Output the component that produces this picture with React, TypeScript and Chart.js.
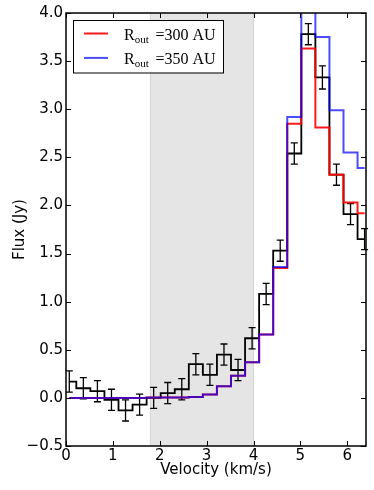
import React, { useEffect, useRef } from 'react';
import { Chart, registerables } from 'chart.js';

Chart.register(...registerables);

// ---- data ----
const velocity = [0.07, 0.37, 0.67, 0.97, 1.27, 1.57, 1.87, 2.17, 2.47, 2.77, 3.07, 3.37, 3.67, 3.97, 4.27, 4.57, 4.87, 5.17, 5.47, 5.77, 6.07, 6.37];
const observedFlux = [0.17, 0.10, 0.07, -0.02, -0.13, -0.07, 0.0, 0.05, 0.09, 0.35, 0.24, 0.45, 0.29, 0.62, 1.08, 1.53, 2.54, 3.78, 3.33, 2.32, 1.91, 1.65];
const fluxError = [0.11, 0.11, 0.11, 0.11, 0.11, 0.11, 0.11, 0.11, 0.11, 0.11, 0.11, 0.11, 0.11, 0.11, 0.11, 0.11, 0.11, 0.11, 0.12, 0.11, 0.11, 0.11];
const model300 = [0, 0, 0, 0, 0, 0, 0.005, 0.005, 0.005, 0.01, 0.035, 0.12, 0.23, 0.37, 0.66, 1.35, 2.85, 3.63, 2.81, 2.32, 2.03, 1.92];
const model350 = [0, 0, 0, 0, 0, 0, 0.005, 0.005, 0.005, 0.01, 0.035, 0.12, 0.23, 0.37, 0.66, 1.36, 2.92, 4.5, 3.75, 2.99, 2.55, 2.39];
const shadedRange = [1.8, 4.0];
const xTicks = [0, 1, 2, 3, 4, 5, 6];
const yTicks = [-0.5, 0, 0.5, 1, 1.5, 2, 2.5, 3, 3.5, 4];
const legendLabels = [
  { sub: 'out', rest: '=300 AU', color: 'rgba(255,0,0,0.9)' },
  { sub: 'out', rest: '=350 AU', color: 'rgba(0,0,255,0.7)' },
];

const RED = 'rgba(255,0,0,0.9)';
const BLUE = 'rgba(0,0,255,0.7)';
const SANS = '"DejaVu Sans", sans-serif';

const decorPlugin = {
  id: 'decor',
  beforeDatasetsDraw(chart: any) {
    const { ctx, chartArea, scales } = chart;
    const x1 = scales.x.getPixelForValue(shadedRange[0]);
    const x2 = scales.x.getPixelForValue(shadedRange[1]);
    ctx.save();
    ctx.fillStyle = '#e5e5e5';
    ctx.fillRect(x1, chartArea.top, x2 - x1, chartArea.bottom - chartArea.top);
    ctx.strokeStyle = '#d4d4d4';
    ctx.lineWidth = 1;
    ctx.beginPath();
    ctx.moveTo(x1, chartArea.top);
    ctx.lineTo(x1, chartArea.bottom);
    ctx.moveTo(x2, chartArea.top);
    ctx.lineTo(x2, chartArea.bottom);
    ctx.stroke();
    ctx.restore();
  },
  afterDatasetDraw(chart: any, args: any) {
    if (args.index !== 2) return;
    const { ctx, scales } = chart;
    ctx.save();
    ctx.strokeStyle = '#000';
    ctx.lineWidth = 1.3;
    ctx.beginPath();
    velocity.forEach((v, i) => {
      const x = scales.x.getPixelForValue(v);
      const yTop = scales.y.getPixelForValue(observedFlux[i] + fluxError[i]);
      const yBot = scales.y.getPixelForValue(observedFlux[i] - fluxError[i]);
      ctx.moveTo(x, yTop);
      ctx.lineTo(x, yBot);
      ctx.moveTo(x - 3.5, yTop);
      ctx.lineTo(x + 3.5, yTop);
      ctx.moveTo(x - 3.5, yBot);
      ctx.lineTo(x + 3.5, yBot);
    });
    ctx.stroke();
    ctx.restore();
  },
  afterDraw(chart: any) {
    const { ctx, chartArea, scales } = chart;
    const { left, right, top, bottom } = chartArea;
    ctx.save();
    // ticks inward
    ctx.strokeStyle = '#000';
    ctx.lineWidth = 1;
    ctx.beginPath();
    xTicks.forEach((t) => {
      const x = Math.round(scales.x.getPixelForValue(t)) + 0.5;
      ctx.moveTo(x, bottom);
      ctx.lineTo(x, bottom - 5);
      ctx.moveTo(x, top);
      ctx.lineTo(x, top + 5);
    });
    yTicks.forEach((t) => {
      const y = Math.round(scales.y.getPixelForValue(t)) + 0.5;
      ctx.moveTo(left, y);
      ctx.lineTo(left + 5, y);
      ctx.moveTo(right, y);
      ctx.lineTo(right - 5, y);
    });
    ctx.stroke();
    // frame
    ctx.lineWidth = 1.5;
    ctx.strokeRect(left, top, right - left, bottom - top);

    // legend
    const lx = 73, ly = 20, lw = 150, lh = 52.5;
    ctx.fillStyle = '#fff';
    ctx.fillRect(lx, ly, lw, lh);
    ctx.lineWidth = 1;
    ctx.strokeStyle = '#000';
    ctx.strokeRect(lx + 0.5, ly + 0.5, lw, lh);
    legendLabels.forEach((item, i) => {
      const yLine = 33.5 + i * 24.4;
      ctx.strokeStyle = item.color;
      ctx.lineWidth = 2;
      ctx.beginPath();
      ctx.moveTo(84, yLine);
      ctx.lineTo(108, yLine);
      ctx.stroke();
      const base = 39.5 + i * 24.4;
      ctx.fillStyle = '#000';
      ctx.textBaseline = 'alphabetic';
      ctx.textAlign = 'left';
      ctx.font = '16px "Liberation Serif", serif';
      ctx.fillText('R', 124, base);
      const rw = ctx.measureText('R').width;
      ctx.font = '11px "Liberation Serif", serif';
      ctx.fillText(item.sub, 124 + rw, base + 3);
      ctx.font = '16px "Liberation Serif", serif';
      ctx.fillText(item.rest, 155.5, base);
    });
    ctx.restore();
  },
};

export default function App() {
  const canvasRef = useRef<HTMLCanvasElement | null>(null);

  useEffect(() => {
    const canvas = canvasRef.current;
    if (!canvas) return;
    const mk = (arr: number[]) => velocity.map((v, i) => ({ x: v, y: arr[i] }));
    const chart = new Chart(canvas, {
      type: 'line',
      data: {
        datasets: [
          { label: 'R350', data: mk(model350), borderColor: BLUE, borderWidth: 2, stepped: 'middle', pointRadius: 0, fill: false },
          { label: 'R300', data: mk(model300), borderColor: RED, borderWidth: 2, stepped: 'middle', pointRadius: 0, fill: false },
          { label: 'obs', data: mk(observedFlux), borderColor: '#000', borderWidth: 1.8, stepped: 'middle', pointRadius: 0, fill: false },
        ],
      },
      options: {
        responsive: false,
        animation: false,
        devicePixelRatio: 1,
        layout: { padding: { left: 0, right: 8, top: 13, bottom: 0 } },
        plugins: { legend: { display: false }, tooltip: { enabled: false } },
        scales: {
          x: {
            type: 'linear',
            min: 0,
            max: 6.4,
            grid: { display: false, drawTicks: false },
            border: { display: false },
            afterBuildTicks: (s: any) => { s.ticks = xTicks.map((v) => ({ value: v })); },
            afterFit: (s: any) => { s.height = 44; },
            ticks: { color: '#000', font: { family: SANS, size: 15 }, padding: 1, maxRotation: 0, autoSkip: false, callback: (v: any) => String(v) },
            title: { display: true, text: 'Velocity (km/s)', color: '#000', font: { family: SANS, size: 15 }, padding: { top: 0, bottom: 11 } },
          },
          y: {
            type: 'linear',
            min: -0.5,
            max: 4.0,
            grid: { display: false, drawTicks: false },
            border: { display: false },
            afterBuildTicks: (s: any) => { s.ticks = yTicks.map((v) => ({ value: v })); },
            afterFit: (s: any) => { s.width = 66; },
            ticks: {
              color: '#000',
              font: { family: SANS, size: 15 },
              padding: 3,
              autoSkip: false,
              callback: (v: any) => (Number(v) < 0 ? '\u2212' + Math.abs(Number(v)).toFixed(1) : Number(v).toFixed(1)),
            },
            title: { display: true, text: 'Flux (Jy)', color: '#000', font: { family: SANS, size: 15 }, padding: { top: 11, bottom: 0 } },
          },
        },
      },
      plugins: [decorPlugin],
    } as any);
    return () => chart.destroy();
  }, []);

  return (
    <div style={{ position: 'fixed', left: 0, top: 0, width: 374, height: 490, background: '#fff' }}>
      <canvas ref={canvasRef} width={374} height={490} style={{ display: 'block', width: 374, height: 490 }} />
    </div>
  );
}
